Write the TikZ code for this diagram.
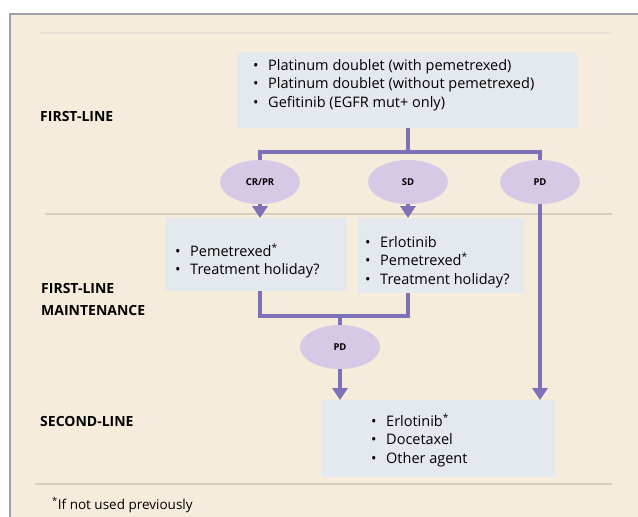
\documentclass[tikz,border=0pt]{standalone}
\usepackage{fontspec}
\setmainfont{Open Sans}
\usetikzlibrary{arrows.meta,shapes.geometric,positioning,calc}

\definecolor{cream}{HTML}{F5ECDB}
\definecolor{boxblue}{HTML}{E4E8EF}
\definecolor{lilac}{HTML}{D6C9E5}
\definecolor{flow}{HTML}{7D71B7}
\definecolor{rulegray}{HTML}{D6CEBF}
\definecolor{framegray}{HTML}{A19FAC}

\newcommand{\itm}[1]{\makebox[15pt][l]{\textbullet}#1}

\begin{document}
\begin{tikzpicture}[x=1pt,y=-1pt,
    stage/.style={font=\fontsize{14}{22}\selectfont\bfseries,align=left,anchor=west,inner sep=0pt},
    panel/.style={fill=boxblue,draw=none,anchor=north west,inner sep=0pt},
    items/.style={font=\fontsize{14.5}{18.5}\selectfont,align=left,anchor=west,inner sep=0pt},
    resp/.style={ellipse,fill=lilac,minimum width=80pt,minimum height=44pt,inner sep=0pt,font=\fontsize{9.5}{10}\selectfont\bfseries},
    flowline/.style={draw=flow,line width=4pt},
    flowarrow/.style={flowline,-{Triangle[width=15pt,length=12pt]}}]
    \useasboundingbox (0,0) rectangle (638,517);
    \fill[white] (0,0) rectangle (638,517);
    \fill[cream] (10,14) rectangle (638,517);
    \draw[framegray,line width=2pt] (10,517) -- (10,14) -- (638,14);

    % separators
    \draw[rulegray!60,line width=1.5pt] (40,33) -- (612,33);
    \draw[rulegray,line width=1.5pt] (45,214) -- (612,214);
    \draw[rulegray,line width=1.5pt] (35,484) -- (612,484);

    % stage labels
    \node[stage] (lbl1) at (40,116) {FIRST-LINE};
    \node[stage] (lbl2) at (41,299) {FIRST-LINE\\MAINTENANCE};
    \node[stage] (lbl3) at (40,421) {SECOND-LINE};
    \node[anchor=west,inner sep=0pt,font=\fontsize{13.5}{15}\selectfont] (note) at (52,505) {\textsuperscript{*}If not used previously};

    % panels
    \node[panel,minimum width=340pt,minimum height=76pt] (first) at (237,52) {};
    \node[panel,minimum width=182pt,minimum height=73pt] (maintA) at (165,218) {};
    \node[panel,minimum width=166pt,minimum height=75pt] (maintB) at (358,218) {};
    \node[panel,minimum width=233pt,minimum height=77pt] (second) at (322,400) {};

    \node[items] (firstlist) at (253,85) {\itm{Platinum doublet (with pemetrexed)}\\
        \itm{Platinum doublet (without pemetrexed)}\\
        \itm{Gefitinib (EGFR mut+ only)}};
    \node[items] (maintAlist) at (175,261) {\itm{Pemetrexed\textsuperscript{*}}\\
        \itm{Treatment holiday?}};
    \node[items] (maintBlist) at (365,262) {\itm{Erlotinib}\\
        \itm{Pemetrexed\textsuperscript{*}}\\
        \itm{Treatment holiday?}};
    \node[items] (secondlist) at (371,440) {\itm{Erlotinib\textsuperscript{*}}\\
        \itm{Docetaxel}\\
        \itm{Other agent}};

    % responses
    \node[resp] (crpr) at (260,182) {CR/PR};
    \node[resp] (sd) at (408,182) {SD};
    \node[resp] (pd) at (540,182) {PD};
    \node[resp] (pdB) at (340,347) {PD};

    \coordinate (fork) at (408,152);
    \coordinate (join) at (340,316);

    \draw[flowline] (first.south -| fork) -- (fork);
    \draw[flowline] (crpr.north) |- (fork) -| (pd.north);
    \draw[flowarrow] (crpr.south) -- (crpr.south |- maintA.north);
    \draw[flowarrow] (sd.south) -- (sd.south |- maintB.north);
    \draw[flowarrow] (pd.south) -- (pd.south |- second.north);

    \draw[flowline] (crpr |- maintA.south) -- (crpr |- join) -| (sd |- maintB.south);
    \draw[flowline] (join) -- (pdB.north);
    \draw[flowarrow] (pdB.south) -- (pdB.south |- second.north);
\end{tikzpicture}
\end{document}
